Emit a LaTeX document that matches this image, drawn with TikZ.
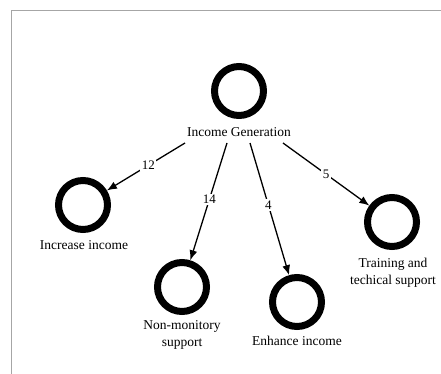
\documentclass[tikz,border=0pt]{standalone}
\usepackage{fontspec}
\setmainfont{Liberation Serif}
\usetikzlibrary{arrows.meta}
\begin{document}
\begin{tikzpicture}[x=1pt,y=-1pt,
  ring/.style={circle,draw=black,line width=7pt,minimum size=49pt,inner sep=0pt},
  lbl/.style={font=\fontsize{13.5}{17}\selectfont,align=center,inner sep=1pt},
  num/.style={font=\fontsize{13}{15}\selectfont,fill=white,inner sep=1.5pt},
  link/.style={line width=1.3pt,-{Latex[length=10pt,width=8pt]}}]
\useasboundingbox (0,0) rectangle (441,374);
% frame
\draw[gray!70,line width=1pt] (11,374) -- (11,11) -- (441,11);
% nodes
\node[ring] (ig) at (239,91) {};
\node[lbl] (igl) at (239,132) {Income Generation};
\node[ring] (ii) at (83,205) {};
\node[lbl] (iil) at (84,245) {Increase income};
\node[ring] (nm) at (182,287) {};
\node[lbl] (nml) at (182,335) {Non-monitory\\support};
\node[ring] (ei) at (297,302) {};
\node[lbl] (eil) at (297,341) {Enhance income};
\node[ring] (ts) at (392,222) {};
\node[lbl] (tsl) at (393,273) {Training and\\techical support};
% start points below the central label
\coordinate (s1) at (185,143);
\coordinate (s2) at (227,143);
\coordinate (s3) at (250,143);
\coordinate (s4) at (283,143);
% links
\draw[link] (s1) -- node[num,pos=0.47] {12} (ii);
\draw[link] (s2) -- node[num,pos=0.48] {14} (nm);
\draw[link] (s3) -- node[num,pos=0.47] {4} (ei);
\draw[link] (s4) -- node[num,pos=0.5] {5} (ts);
\end{tikzpicture}
\end{document}
